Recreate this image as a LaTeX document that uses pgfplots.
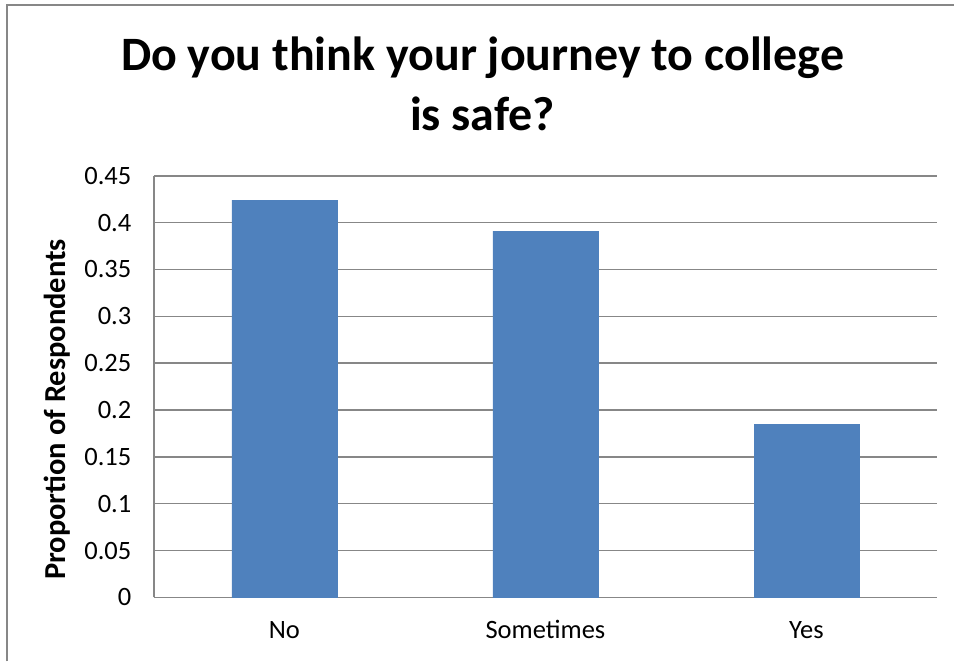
\documentclass[border=0pt]{standalone}
\usepackage{pgfplots}
\pgfplotsset{compat=1.18}
\usepackage{fontspec}
\setmainfont{Carlito}
\definecolor{barblue}{HTML}{4F81BD}
\definecolor{gridgray}{HTML}{878787}
\begin{document}
\begin{tikzpicture}
\begin{axis}[
    name=ax,
    width=784pt, height=422pt, scale only axis,
    ybar, bar width=105pt,
    xmin=-0.5, xmax=2.5,
    xtick={0,1,2}, xticklabels={No,Sometimes,Yes},
    ymin=0, ymax=0.45,
    ytick={0,0.05,0.1,0.15,0.2,0.25,0.3,0.35,0.4,0.45},
    yticklabels={0,0.05,0.1,0.15,0.2,0.25,0.3,0.35,0.4,0.45},
    axis x line=bottom, axis y line=left,
    axis line style={-, draw=gridgray, line width=1.5pt},
    ymajorgrids, grid style={draw=gridgray, line width=1.5pt},
    major tick length=0pt,
    tick style={draw=none},
    ticklabel style={font=\fontsize{26.5}{31}\selectfont},
    yticklabel style={anchor=east, xshift=-19pt},
    xticklabel style={anchor=base, yshift=-41pt},
]
\addplot[fill=barblue, draw=barblue] coordinates {(0,0.424) (1,0.391) (2,0.185)};
\end{axis}
% page frame, 1pt = 1px of the reference, origin at the page's lower left
\path (ax.south west) ++(-154pt,-64pt) coordinate (o);
\begin{scope}[shift={(o)}, x=1pt, y=1pt]
\path (0,0) rectangle (955,662);
\draw[gridgray, line width=2pt] (7,0) -- (7,657) -- (955,657);
\node[anchor=base, font=\fontsize{48}{56}\selectfont\bfseries] at (483,591) {Do you think your journey to college};
\node[anchor=base, font=\fontsize{48}{56}\selectfont\bfseries] at (483,531) {is safe?};
\node[anchor=base, rotate=90, font=\fontsize{30.5}{36}\selectfont\bfseries] at (66,252) {Proportion of Respondents};
\end{scope}
\end{tikzpicture}
\end{document}
